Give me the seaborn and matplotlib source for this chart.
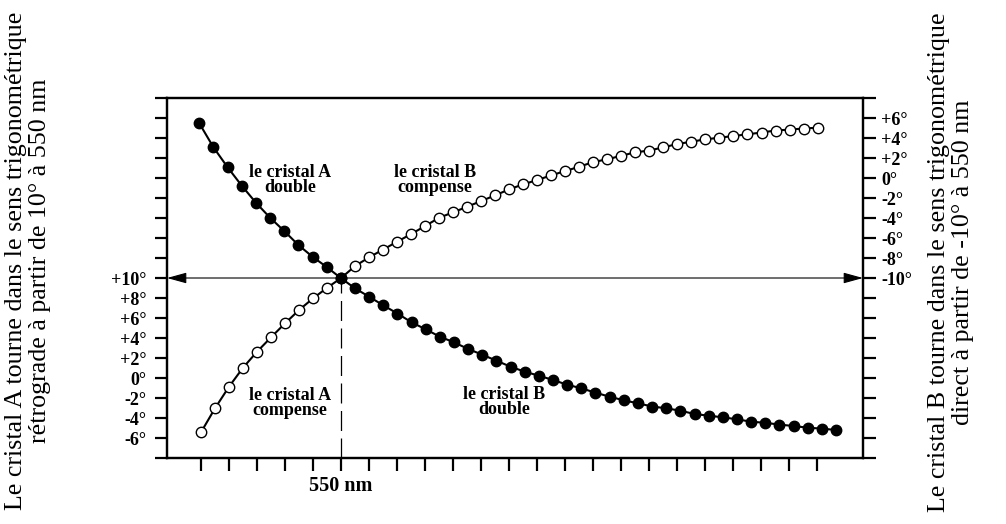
# %%
import numpy as np
import pandas as pd
import seaborn as sns
import matplotlib.pyplot as plt

sns.set_theme(style='ticks', rc={'axes.edgecolor': 'black', 'xtick.color': 'black',
                                 'ytick.color': 'black', 'text.color': 'black'})
plt.rcParams['font.family'] = ['Liberation Serif', 'DejaVu Serif']

# %%
# valeurs, en degrés sur l'échelle de gauche
# courbe à points noirs
noir = [25.47, 23.07, 21.07, 19.23, 17.53, 16.03, 14.7, 13.3, 12.13, 11.1,
        10.0, 8.97, 8.13, 7.27, 6.45, 5.57, 4.87, 4.13, 3.57, 2.9,
        2.33, 1.73, 1.13, 0.63, 0.23, -0.2, -0.67, -1.03, -1.47, -1.87,
        -2.23, -2.53, -2.85, -3.03, -3.27, -3.6, -3.77, -3.93, -4.13, -4.37,
        -4.48, -4.66, -4.8, -4.97, -5.06, -5.2]
# courbe à points blancs
blanc = [-5.43, -3.03, -0.87, 1.03, 2.63, 4.07, 5.47, 6.8, 7.97, 9.02,
         10.0, 11.2, 12.07, 12.85, 13.63, 14.4, 15.2, 16.03, 16.57, 17.13,
         17.7, 18.27, 18.87, 19.37, 19.8, 20.27, 20.7, 21.13, 21.6, 21.87,
         22.23, 22.57, 22.75, 23.07, 23.4, 23.63, 23.87, 24.03, 24.2, 24.37,
         24.55, 24.75, 24.84, 24.95, 25.03]
nm_noir = np.linspace(499.4, 726.8, len(noir))
nm_blanc = np.linspace(500.0, 720.2, len(blanc))

ref_nm = 550
ref_deg = 10
decalage = 20   # échelle de droite = gauche - 20
ticks_nm = np.arange(500, 721, 10)
ticks_deg = np.arange(-8, 29, 2)

etiquettes = [
    ('le cristal A\ndouble', 531.8, 19.8),
    ('le cristal B\ncompense', 583.6, 19.8),
    ('le cristal A\ncompense', 531.8, -2.5),
    ('le cristal B\ndouble', 608.2, -2.4),
]

df_noir = pd.DataFrame({'nm': nm_noir, 'deg': noir})
df_blanc = pd.DataFrame({'nm': nm_blanc, 'deg': blanc})

# %%
def fmt(v):
    return '0°' if v == 0 else f'{v:+d}°'

fig = plt.figure(figsize=(10.06, 5.24), dpi=100)
ax = fig.add_axes([0.166, 0.12595, 0.69185, 0.68702])

sns.lineplot(data=df_blanc, x='nm', y='deg', ax=ax, color='black', lw=1.5,
             marker='o', markersize=7.5, markerfacecolor='white',
             markeredgecolor='black', markeredgewidth=1.0, zorder=3)
sns.lineplot(data=df_noir, x='nm', y='deg', ax=ax, color='black', lw=1.5,
             marker='o', markersize=7.5, markerfacecolor='black',
             markeredgecolor='black', markeredgewidth=1.0, zorder=4)

ax.set_xlim(487.86, 736.43)
ax.set_ylim(-8, 28)

# flèche horizontale à +10° et trait pointillé à 550 nm
xmin, xmax = ax.get_xlim()
for bout in (xmin, xmax):
    ax.annotate('', xy=(bout, ref_deg), xytext=(ref_nm, ref_deg),
                arrowprops=dict(arrowstyle='-|>,head_length=0.8,head_width=0.22',
                                color='black', lw=0.8, shrinkA=0, shrinkB=0,
                                mutation_scale=15), zorder=2)
ax.vlines(ref_nm, ax.get_ylim()[0], ref_deg, colors='black', lw=0.9,
          linestyles=(0, (16, 6)), zorder=2)

for txt, x, y in etiquettes:
    ax.text(x, y, txt, ha='center', va='center', fontsize=13,
            fontweight='bold', linespacing=0.9)

# axes
ax.set_xticks(ticks_nm)
ax.set_xticklabels(['550 nm' if t == ref_nm else '' for t in ticks_nm],
                   fontweight='bold', fontsize=14.5)
ax.set_yticks(ticks_deg)
ax.set_yticklabels([fmt(int(v)) if -6 <= v <= 10 else '' for v in ticks_deg],
                   fontweight='bold', fontsize=13)
ax.tick_params(axis='x', direction='out', length=9, width=1.6, pad=4)
ax.tick_params(axis='y', direction='out', length=9, width=1.6, pad=6)
ax.set_xlabel('')
ax.set_ylabel('')

ax2 = ax.twinx()
ax2.set_ylim(ax.get_ylim()[0] - decalage, ax.get_ylim()[1] - decalage)
ticks_droite = ticks_deg - decalage
ax2.set_yticks(ticks_droite)
ax2.set_yticklabels([fmt(int(v)) if -10 <= v <= 6 else '' for v in ticks_droite],
                    fontweight='bold', fontsize=13)
ax2.tick_params(axis='y', direction='out', length=9, width=1.6, pad=4)

for a in (ax, ax2):
    for s in a.spines.values():
        s.set_visible(True)
        s.set_linewidth(1.6)

fig.text(0.028, 0.502,
         'Le cristal A tourne dans le sens trigonométrique\n'
         'rétrograde à partir de 10° à 550 nm',
         rotation=90, ha='center', va='center', fontsize=18.7,
         linespacing=1.1, multialignment='center')
fig.text(0.945, 0.5,
         'Le cristal B tourne dans le sens trigonométrique\n'
         'direct à partir de -10° à 550 nm',
         rotation=90, ha='center', va='center', fontsize=18.7,
         linespacing=1.1, multialignment='center')

fig.savefig('out.png', dpi=100)
